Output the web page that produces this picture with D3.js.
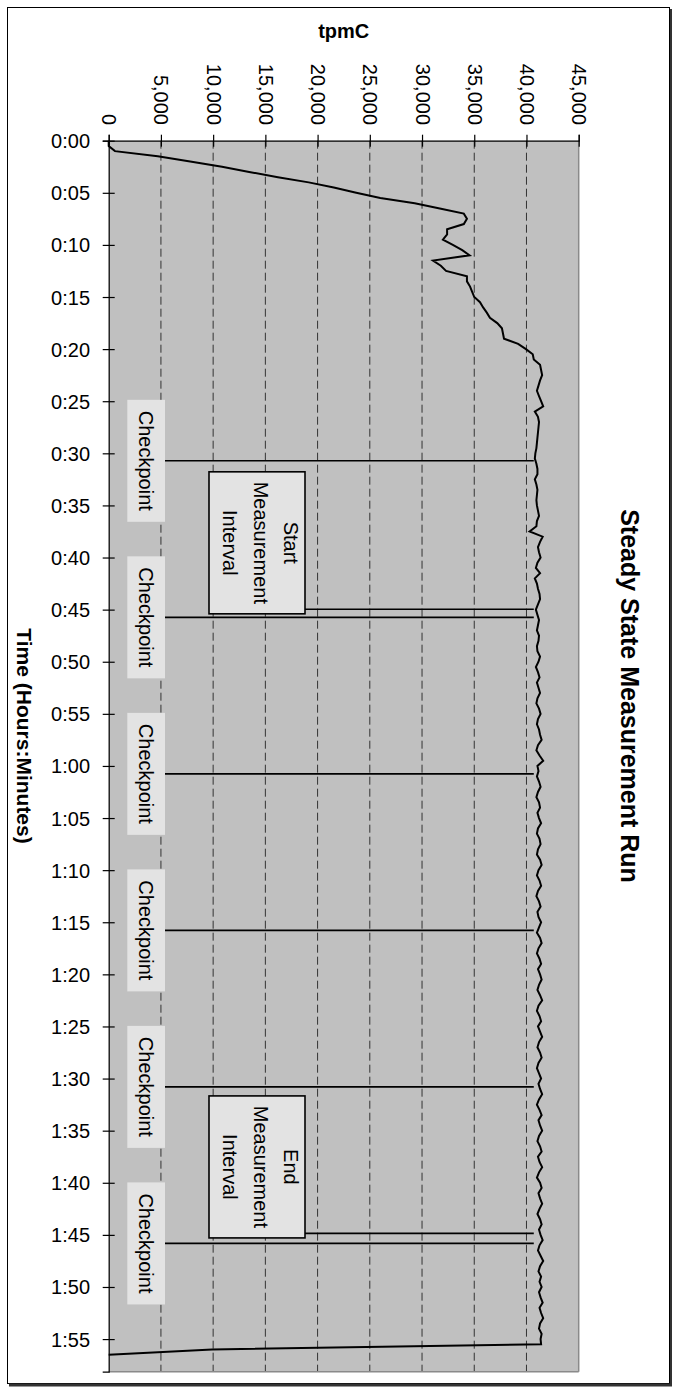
<!DOCTYPE html>
<html>
<head>
<meta charset="utf-8">
<script src="https://cdn.jsdelivr.net/npm/d3@7"></script>
<style>
  body { margin: 0; background: #fff; }
  text { font-family: "Liberation Sans", Arial, sans-serif; fill: #000; }
</style>
</head>
<body>
<svg id="chart" width="681" height="1390"></svg>
<script>
// Sampling interval of the throughput log, in minutes
const sampleStep = 0.5;

// tpmC during ramp-up, 0:00 to 0:21:30
const rampValues = [
  0, 0, 600, 4700, 7800, 10850, 13450, 16200, 19150, 21550,
  23700, 26000, 29300, 31700, 34000, 34300, 34000, 32400, 32400, 32000,
  32950, 33850, 34550, 31050, 31800, 32300, 34300, 34300, 34600, 34800,
  35000, 35550, 35850, 36200, 36500, 37200, 37650, 37750, 37850, 39200,
  39950, 40600, 40700, 41300
];

// tpmC during steady state, 0:22 to 1:55:30
const steadyValues = [
  41400, 41500, 41300, 41150, 41000, 41200, 41400, 41600, 40800, 41100,
  41200, 41150, 41100, 41050, 41000, 40950, 40850, 40800, 40950, 41050,
  41050, 40800, 40950, 41050, 41000, 40950, 41000, 41100, 41200, 41000,
  40950, 40300, 41550, 41300, 41100, 41200, 41350, 41050, 40900, 41300,
  40800, 41000, 41100, 41250, 41300, 41100, 40900, 41050, 41200, 41100,
  41000, 41200, 41150, 41000, 41050, 41300, 41150, 40900, 41100, 41250,
  41000, 41150, 41300, 41050, 40950, 41200, 41350, 41100, 41000, 41200,
  41300, 41450, 41100, 40950, 41250, 41600, 41050, 41150, 41000, 41200,
  41350, 41100, 40950, 41200, 41300, 41050, 41200, 41400, 41100, 41000,
  41250, 41350, 41100, 41000, 41300, 41450, 41150, 41000, 41250, 41400,
  41100, 40950, 41200, 41350, 41050, 41150, 41400, 41200, 41000, 41300,
  41450, 41150, 41000, 41250, 41400, 41100, 41300, 41450, 41200, 41050,
  41300, 41500, 41150, 41000, 41250, 41400, 41100, 41300, 41500, 41200,
  41050, 41300, 41450, 41150, 41000, 41200, 41400, 41150, 41300, 41500,
  41200, 41000, 41250, 41450, 41150, 41300, 41500, 41200, 41050, 41300,
  41450, 41100, 41250, 41500, 41200, 41000, 41300, 41450, 41150, 41300,
  41500, 41250, 41050, 41300, 41450, 41200, 41350, 41550, 41250, 41100,
  41350, 41600, 41300, 41150, 41400, 41250, 41450, 41200, 41350, 41550,
  41250, 41400, 41600, 41300, 41200, 41450, 41350, 41400
];

// tpmC during shutdown, 1:56 and 1:56:30
const shutdownValues = [9900, 0];

const tpmCSeries = rampValues.concat(steadyValues, shutdownValues);

// Axis ticks
const timeTickMinutes = [0, 5, 10, 15, 20, 25, 30, 35, 40, 45, 50, 55,
  60, 65, 70, 75, 80, 85, 90, 95, 100, 105, 110, 115];
const timeTickLabels = ["0:00", "0:05", "0:10", "0:15", "0:20", "0:25", "0:30", "0:35",
  "0:40", "0:45", "0:50", "0:55", "1:00", "1:05", "1:10", "1:15", "1:20", "1:25",
  "1:30", "1:35", "1:40", "1:45", "1:50", "1:55"];
const tpmCTicks = [0, 5000, 10000, 15000, 20000, 25000, 30000, 35000, 40000, 45000];

// Checkpoint start times (minutes into the run)
const checkpointMinutes = [30.72, 45.74, 60.76, 75.78, 90.80, 105.82];
// Measurement interval boundaries (minutes into the run)
const intervalMinutes = [44.97, 104.86];
const intervalLabels = [
  ["Start", "Measurement", "Interval"],
  ["End", "Measurement", "Interval"]
];
// tpmC level where marker lines meet the throughput curve
const markerReach = 40700;

const timeMax = 118.13;

const svg = d3.select("#chart");

// Outer chart frame with a drop shadow on the right and bottom edges
svg.append("rect").attr("x", 0).attr("y", 0).attr("width", 681).attr("height", 1390).attr("fill", "#fff");
svg.append("rect")
  .attr("x", 7.5).attr("y", 7.5).attr("width", 662).attr("height", 1376)
  .attr("fill", "#fff").attr("stroke", "#000").attr("stroke-width", 1);
svg.append("line").attr("x1", 671).attr("x2", 671).attr("y1", 9).attr("y2", 1386)
  .attr("stroke", "#333").attr("stroke-width", 2);
svg.append("line").attr("x1", 9).attr("x2", 672).attr("y1", 1385).attr("y2", 1385)
  .attr("stroke", "#333").attr("stroke-width", 3);

const x = d3.scaleLinear().domain([0, 45000]).range([108.7, 578.7]);
const y = d3.scaleLinear().domain([0, timeMax]).range([140.7, 1371.7]);

// Plot area
svg.append("rect")
  .attr("x", x(0)).attr("y", y(0))
  .attr("width", x(45000) - x(0)).attr("height", y(timeMax) - y(0))
  .attr("fill", "#c0c0c0");

// Dashed value gridlines
svg.append("g")
  .selectAll("line")
  .data(tpmCTicks.filter(d => d > 0 && d < 45000))
  .join("line")
  .attr("x1", d => x(d)).attr("x2", d => x(d))
  .attr("y1", y(0)).attr("y2", y(timeMax))
  .attr("stroke", "#333").attr("stroke-width", 1)
  .attr("stroke-dasharray", "8,4");

// Right and bottom plot edges
svg.append("line").attr("x1", x(45000)).attr("x2", x(45000)).attr("y1", y(0)).attr("y2", y(timeMax))
  .attr("stroke", "#8a8a8a").attr("stroke-width", 1.5);
svg.append("line").attr("x1", x(0)).attr("x2", x(45000)).attr("y1", y(timeMax)).attr("y2", y(timeMax))
  .attr("stroke", "#8a8a8a").attr("stroke-width", 1.5);

// Checkpoint label boxes and lines
const cpBoxLeft = x(0) + 18.6, cpBoxWidth = 37.7, cpBoxHeight = 122;
const checkpoints = svg.append("g");
checkpoints.selectAll("rect")
  .data(checkpointMinutes).join("rect")
  .attr("x", cpBoxLeft).attr("y", d => y(d) - cpBoxHeight / 2)
  .attr("width", cpBoxWidth).attr("height", cpBoxHeight)
  .attr("fill", "#e3e3e3");
checkpoints.selectAll("line")
  .data(checkpointMinutes).join("line")
  .attr("x1", cpBoxLeft + cpBoxWidth).attr("x2", x(markerReach))
  .attr("y1", d => y(d)).attr("y2", d => y(d))
  .attr("stroke", "#000").attr("stroke-width", 1.6);
checkpoints.selectAll("text")
  .data(checkpointMinutes).join("text")
  .attr("transform", d => `translate(${cpBoxLeft + cpBoxWidth / 2},${y(d)}) rotate(90)`)
  .attr("text-anchor", "middle").attr("dy", "0.35em")
  .attr("font-size", 20)
  .text("Checkpoint");

// Measurement interval markers
const ivBoxLeft = x(0) + 100.3, ivBoxWidth = 96, ivBoxHeight = 142;
const intervals = svg.append("g");
intervals.selectAll("line")
  .data(intervalMinutes).join("line")
  .attr("x1", ivBoxLeft + ivBoxWidth).attr("x2", x(markerReach))
  .attr("y1", d => y(d)).attr("y2", d => y(d))
  .attr("stroke", "#000").attr("stroke-width", 1.6);
intervals.selectAll("rect")
  .data(intervalMinutes).join("rect")
  .attr("x", ivBoxLeft).attr("y", d => y(d) + 4.5 - ivBoxHeight)
  .attr("width", ivBoxWidth).attr("height", ivBoxHeight)
  .attr("fill", "#e3e3e3").attr("stroke", "#000").attr("stroke-width", 1.6);
intervals.selectAll("text")
  .data(intervalMinutes).join("text")
  .attr("transform", d => `translate(${ivBoxLeft + ivBoxWidth / 2 + 3.5},${y(d) + 4.5 - ivBoxHeight / 2}) rotate(90)`)
  .attr("text-anchor", "middle")
  .attr("font-size", 20)
  .each(function (d, i) {
    const lines = intervalLabels[i];
    d3.select(this).selectAll("tspan").data(lines).join("tspan")
      .attr("x", 0)
      .attr("y", (l, k) => (k - (lines.length - 1) / 2) * 30.5)
      .attr("dy", "0.35em")
      .text(l => l);
  });

// Throughput curve
const line = d3.line()
  .x(d => x(d))
  .y((d, i) => y(i * sampleStep));
svg.append("path")
  .datum(tpmCSeries)
  .attr("d", line)
  .attr("fill", "none").attr("stroke", "#000").attr("stroke-width", 2)
  .attr("stroke-linejoin", "miter");

// Value axis along the top, labels turned a quarter
const xAxis = svg.append("g")
  .attr("transform", `translate(0,${y(0)})`)
  .call(d3.axisTop(x).tickValues(tpmCTicks).tickSize(6).tickFormat(d3.format(",")));
xAxis.select(".domain").attr("stroke", "#000").attr("stroke-width", 1.2);
xAxis.selectAll(".tick line").attr("y1", 6).attr("y2", -6).attr("stroke", "#000").attr("stroke-width", 1.2);
xAxis.selectAll(".tick text")
  .attr("font-size", 20).attr("font-family", null)
  .attr("x", null).attr("y", null).attr("dy", "0.35em")
  .attr("text-anchor", "end")
  .attr("transform", `translate(0,${125 - y(0)}) rotate(90)`);

// Time axis on the left
const yAxis = svg.append("g")
  .attr("transform", `translate(${x(0)},0)`)
  .call(d3.axisLeft(y).tickValues(timeTickMinutes).tickSize(6)
    .tickFormat((d, i) => timeTickLabels[i]));
yAxis.select(".domain").attr("stroke", "#000").attr("stroke-width", 1.2);
yAxis.selectAll(".tick line").attr("x1", 6).attr("x2", -6).attr("stroke", "#000").attr("stroke-width", 1.2);
yAxis.selectAll(".tick text")
  .attr("font-size", 20).attr("font-family", null)
  .attr("x", 90 - x(0)).attr("dy", "0.35em").attr("text-anchor", "end");

// Titles
svg.append("text")
  .attr("x", (x(0) + x(45000)) / 2).attr("y", 38)
  .attr("text-anchor", "middle").attr("font-size", 20).attr("font-weight", "bold")
  .text("tpmC");
svg.append("text")
  .attr("transform", "translate(24,736) rotate(90)")
  .attr("text-anchor", "middle").attr("dy", "0.35em")
  .attr("font-size", 21).attr("font-weight", "bold")
  .text("Time (Hours:Minutes)");
svg.append("text")
  .attr("transform", "translate(630,696) rotate(90)")
  .attr("text-anchor", "middle").attr("dy", "0.35em")
  .attr("font-size", 25).attr("font-weight", "bold")
  .text("Steady State Measurement Run");
</script>
</body>
</html>
